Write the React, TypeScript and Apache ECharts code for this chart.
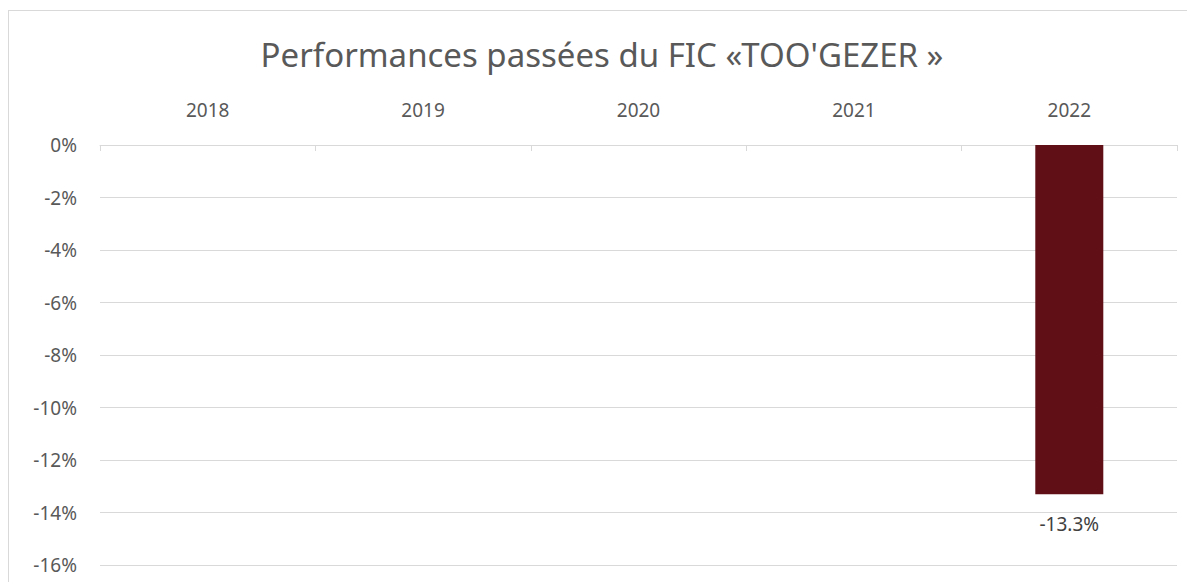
import React, { useEffect, useRef } from "react";
import * as echarts from "echarts";

const title = "Performances passées du FIC «TOO'GEZER »";
const categories = ["2018", "2019", "2020", "2021", "2022"];
const performance: (number | null)[] = [null, null, null, null, -13.3];
const yMin = -16;
const yMax = 0;
const yStep = 2;

const FONT = "'Noto Sans', sans-serif";

export default function App() {
  const ref = useRef<HTMLDivElement>(null);
  useEffect(() => {
    if (!ref.current) return;
    const chart = echarts.init(ref.current, undefined, { renderer: "svg" });
    chart.setOption({
      animation: false,
      backgroundColor: "#ffffff",
      title: {
        text: title,
        left: "center",
        top: 22,
        textStyle: { fontFamily: FONT, fontSize: 33, fontWeight: "normal", color: "#595959" },
      },
      grid: { left: 91, right: 18, top: 134, bottom: 19, containLabel: false },
      xAxis: {
        type: "category",
        data: categories,
        position: "top",
        axisLine: { show: true, lineStyle: { color: "#d9d9d9", width: 1 } },
        axisTick: { show: true, inside: true, length: 6, lineStyle: { color: "#d9d9d9" } },
        axisLabel: { fontFamily: FONT, fontSize: 19, color: "#595959", margin: 26 },
        splitLine: { show: false },
      },
      yAxis: {
        type: "value",
        min: yMin,
        max: yMax,
        interval: yStep,
        axisLine: { show: false },
        axisTick: { show: false },
        axisLabel: {
          fontFamily: FONT,
          fontSize: 19,
          color: "#595959",
          margin: 23,
          formatter: (v: number) => `${v}%`,
        },
        splitLine: { show: true, lineStyle: { color: "#d9d9d9", width: 1 } },
      },
      series: [
        {
          type: "bar",
          data: performance,
          barWidth: 68,
          itemStyle: { color: "#5F0F15" },
          label: {
            show: true,
            position: "bottom",
            distance: 20,
            fontFamily: FONT,
            fontSize: 19,
            color: "#404040",
            formatter: (p: any) => `${Number(p.value).toFixed(1)}%`,
          },
        },
      ],
    });
    return () => chart.dispose();
  }, []);
  return (
    <div
      style={{
        position: "relative",
        top: 2,
        borderTop: "1px solid #d9d9d9",
        borderLeft: "1px solid #d9d9d9",
        width: 1186,
        height: 573,
      }}
    >
      <div ref={ref} style={{ width: 1186, height: 573 }} />
    </div>
  );
}
